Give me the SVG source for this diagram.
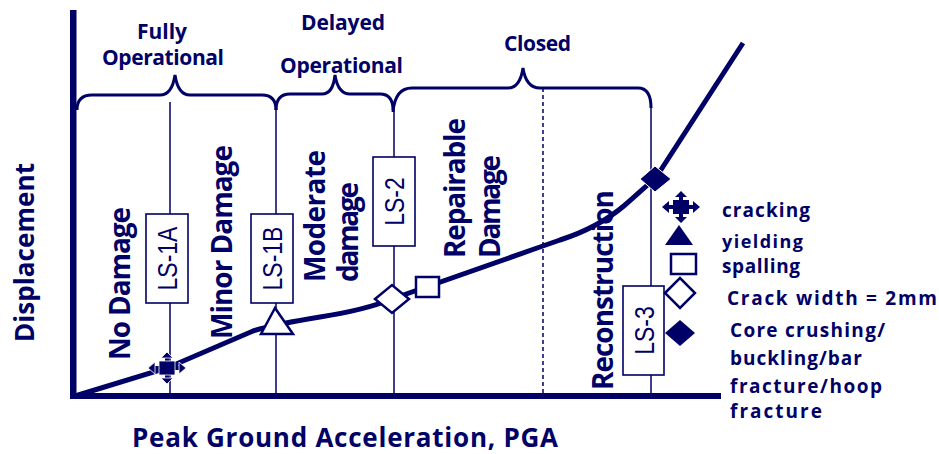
<svg xmlns="http://www.w3.org/2000/svg" width="939" height="454" viewBox="0 0 939 454">
<style>
.t{font-family:"Open Sans","DejaVu Sans",sans-serif;font-weight:700;fill:#000066}
.ls{font-family:"Liberation Sans","Arial",sans-serif;font-size:23px;fill:#000066}
.thin{stroke:#000066;stroke-width:1.5;fill:none}
.brace{stroke:#000066;stroke-width:3;fill:none}
.box{fill:#fff;stroke:#000066;stroke-width:1.6}
.open{fill:#fff;stroke:#000066;stroke-width:2.5}
.solid{fill:#000066}
</style>
<defs>
<g id="crack">
<path d="M-15,0 H15 M0,-13 V13" stroke="#000066" stroke-width="4"/>
<rect x="-8" y="-7" width="16" height="14" fill="#000066"/>
<path d="M-19,0 L-12,-6 L-12,6Z M19,0 L12,-6 L12,6Z M0,-16 L-6,-10 L6,-10Z M0,16 L-6,10 L6,10Z" fill="#000066"/>
</g>
</defs>
<rect width="939" height="454" fill="#fff"/>

<g id="axes">
<rect x="70" y="10" width="6.5" height="389" fill="#000066"/>
<rect x="70" y="393" width="651" height="6" fill="#000066"/>
</g>

<g id="connectors">
<path class="brace" d="M77,110 Q77,95 92,95 L160,95 Q172,95 175,75 Q178,95 190,95 L262,95 Q276,95 276,110"/>
<path class="brace" d="M276,110 Q276,94 290,94 L322,94 Q333,94 335,75 Q338,94 350,94 L380,94 Q393,94 393,110"/>
<path class="brace" d="M393,112 Q395,88 412,88 L508,88 Q520,88 523,68 Q526,88 540,88 L638,88 Q651,88 651,108"/>
<path class="thin" d="M170,102 V393 M276,110 V393 M394,110 V393 M651,108 V393"/>
<path class="thin" d="M543,88 V393" stroke-dasharray="4,3"/>
<path id="curve" d="M75,396 L167,368 L253,331 Q276,324 320,317 Q365,310 392,299 L540,247 L560,240 C585,232 605,222 625,205 C640,192 648,184 655,179 L743,43" fill="none" stroke="#000066" stroke-width="5"/>
</g>

<g id="ls-1a"><rect class="box" x="146" y="214" width="42" height="89"/>
<text class="ls" text-anchor="middle" transform="translate(167.5,258.5) rotate(-90) scale(1,1.2)" x="0" y="8">LS-1A</text></g>
<g id="ls-1b"><rect class="box" x="251" y="214" width="42" height="89"/>
<text class="ls" text-anchor="middle" transform="translate(272.5,258.5) rotate(-90) scale(1,1.2)" x="0" y="8">LS-1B</text></g>
<g id="ls-2"><rect class="box" x="373" y="157" width="42" height="89"/>
<text class="ls" text-anchor="middle" transform="translate(394.5,201.5) rotate(-90) scale(1,1.2)" x="0" y="8">LS-2</text></g>
<g id="ls-3"><rect class="box" x="623" y="286" width="41" height="89"/>
<text class="ls" text-anchor="middle" transform="translate(644,330.5) rotate(-90) scale(1,1.2)" x="0" y="8">LS-3</text></g>

<g id="markers">
<use href="#crack" x="167" y="368" stroke="#fff" stroke-width="0.8"/>
<polygon class="open" points="275,308 261,334 293,334" stroke-width="2"/>
<polygon class="open" points="375,299 392,285 409,299 392,313"/>
<rect class="open" x="416" y="277" width="23" height="20"/>
<polygon class="solid" points="640,179 655,166 671,179 655,192" stroke="#fff" stroke-width="1"/>
</g>

<g id="top-labels">
<text class="t" font-size="21" x="162" y="39" text-anchor="middle" textLength="50">Fully</text>
<text class="t" font-size="21" x="163" y="65" text-anchor="middle" textLength="122">Operational</text>
<text class="t" font-size="21" x="343" y="30" text-anchor="middle" textLength="84">Delayed</text>
<text class="t" font-size="21" x="341.5" y="73" text-anchor="middle" textLength="123">Operational</text>
<text class="t" font-size="21" x="537.5" y="51" text-anchor="middle" textLength="67">Closed</text>
</g>

<g id="damage-labels">
<text class="t" font-size="28" transform="translate(130,360) rotate(-90)" textLength="153">No Damage</text>
<text class="t" font-size="28" transform="translate(232,339) rotate(-90)" textLength="194">Minor Damage</text>
<text class="t" font-size="28" transform="translate(325,282) rotate(-90)" textLength="132">Moderate</text>
<text class="t" font-size="28" transform="translate(358,282) rotate(-90)" textLength="100">damage</text>
<text class="t" font-size="28" transform="translate(465,258) rotate(-90)" textLength="140">Repairable</text>
<text class="t" font-size="28" transform="translate(500,258) rotate(-90)" textLength="103">Damage</text>
<text class="t" font-size="28" transform="translate(613,390) rotate(-90)" textLength="200">Reconstruction</text>
</g>

<g id="axis-labels">
<text class="t" font-size="26" transform="translate(34,342) rotate(-90)" textLength="179">Displacement</text>
<text class="t" font-size="26" x="132" y="447" textLength="426">Peak Ground Acceleration, PGA</text>
</g>

<g id="legend">
<use href="#crack" x="681" y="207"/>
<polygon class="solid" points="679,225 665,245 693,245"/>
<rect class="open" x="671" y="254" width="25" height="20"/>
<polygon class="open" points="665,293 680,278 695,293 680,308"/>
<polygon class="solid" points="665,333 680,320 695,333 680,346"/>
<text class="t" font-size="19" x="722" y="217" textLength="88">cracking</text>
<text class="t" font-size="18" x="722" y="248" textLength="81">yielding</text>
<text class="t" font-size="19" x="722" y="273" textLength="78">spalling</text>
<text class="t" font-size="19" x="727" y="305" textLength="210">Crack width = 2mm</text>
<text class="t" font-size="19" x="730" y="337" textLength="155">Core crushing/</text>
<text class="t" font-size="19" x="730" y="365" textLength="132">buckling/bar</text>
<text class="t" font-size="19" x="730" y="393" textLength="152">fracture/hoop</text>
<text class="t" font-size="19" x="730" y="418" textLength="92">fracture</text>
</g>
</svg>
